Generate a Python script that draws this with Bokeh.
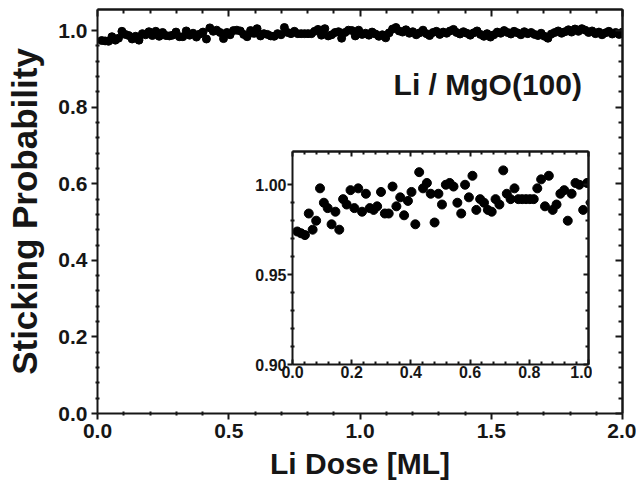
from bokeh.plotting import figure
from bokeh.models import (Range1d, FixedTicker, PrintfTickFormatter,
                          LinearAxis, Label, ColumnDataSource)
from bokeh.embed import file_html
from bokeh.resources import INLINE

# Li dose [ML]
dose = [
    0.016, 0.029, 0.042, 0.055, 0.068, 0.080, 0.093, 0.106, 0.119, 0.132,
    0.145, 0.158, 0.171, 0.183, 0.196, 0.209, 0.222, 0.235, 0.248, 0.261,
    0.274, 0.286, 0.299, 0.312, 0.325, 0.338, 0.351, 0.364, 0.377, 0.390,
    0.402, 0.415, 0.428, 0.441, 0.454, 0.467, 0.480, 0.493, 0.505, 0.518,
    0.531, 0.544, 0.557, 0.570, 0.583, 0.596, 0.608, 0.621, 0.634, 0.647,
    0.660, 0.673, 0.686, 0.699, 0.712, 0.724, 0.737, 0.750, 0.763, 0.776,
    0.789, 0.802, 0.815, 0.827, 0.840, 0.853, 0.866, 0.879, 0.892, 0.905,
    0.918, 0.930, 0.943, 0.956, 0.969, 0.982, 0.995, 1.008, 1.021, 1.034,
    1.046, 1.059, 1.072, 1.085, 1.098, 1.111, 1.124, 1.137, 1.149, 1.162,
    1.175, 1.188, 1.201, 1.214, 1.227, 1.240, 1.253, 1.265, 1.278, 1.291,
    1.304, 1.317, 1.330, 1.343, 1.356, 1.368, 1.381, 1.394, 1.407, 1.420,
    1.433, 1.446, 1.459, 1.472, 1.484, 1.497, 1.510, 1.523, 1.536, 1.549,
    1.562, 1.575, 1.587, 1.600, 1.613, 1.626, 1.639, 1.652, 1.665, 1.678,
    1.690, 1.703, 1.716, 1.729, 1.742, 1.755, 1.768, 1.781, 1.794, 1.806,
    1.819, 1.832, 1.845, 1.858, 1.871, 1.884, 1.897, 1.910, 1.922, 1.935,
    1.948, 1.961, 1.974, 1.987, 2.000,
]

# Sticking probability
stick = [
    0.974, 0.973, 0.972, 0.984, 0.975, 0.980, 0.998, 0.990, 0.987, 0.978,
    0.985, 0.975, 0.992, 0.989, 0.997, 0.987, 0.998, 0.985, 0.995, 0.987,
    0.986, 0.988, 0.996, 0.984, 0.984, 0.999, 0.988, 0.993, 0.983, 0.991,
    0.996, 0.978, 1.007, 0.998, 1.001, 0.995, 0.979, 0.995, 0.989, 1.000,
    1.001, 0.999, 0.990, 0.984, 1.000, 0.993, 1.005, 0.986, 0.992, 0.990,
    0.986, 0.985, 0.992, 0.989, 1.008, 0.995, 0.992, 0.998, 0.992, 0.992,
    0.992, 0.992, 0.992, 0.998, 1.003, 0.988, 1.005, 0.986, 0.989, 0.995,
    0.997, 0.980, 0.995, 1.001, 1.000, 0.986, 1.001, 0.990, 0.993, 0.988,
    0.996, 0.991, 0.985, 0.989, 0.981, 0.994, 1.004, 1.008, 0.999, 0.996,
    1.002, 0.993, 0.997, 0.989, 0.994, 1.001, 0.992, 0.987, 0.995, 0.998,
    0.990, 0.996, 0.993, 0.999, 1.003, 0.995, 0.991, 0.997, 0.993, 0.988,
    0.994, 0.999, 0.990, 0.985, 0.992, 0.983, 0.989, 0.996, 0.993, 1.000,
    0.995, 0.991, 0.998, 0.994, 0.989, 0.997, 0.992, 0.995, 0.990, 0.987,
    0.993, 0.985, 0.980, 0.991, 0.995, 0.999, 0.993, 0.997, 1.002, 0.996,
    1.004, 0.998, 1.005, 1.001, 0.995, 0.999, 0.992, 0.996, 0.989, 0.994,
    0.998, 0.991, 0.995, 0.990, 0.996,
]

main_x_ticks = [0.0, 0.5, 1.0, 1.5, 2.0]
main_y_ticks = [0.0, 0.2, 0.4, 0.6, 0.8, 1.0]
inset_x_ticks = [0.0, 0.2, 0.4, 0.6, 0.8, 1.0]
inset_y_ticks = [0.90, 0.95, 1.00]

FONT = "Liberation Sans"
INK = "#161616"

n = min(len(dose), len(stick))
src = ColumnDataSource(dict(x=dose[:n], y=stick[:n]))
inset_n = sum(1 for d in dose[:n] if d <= 1.02)
src_inset = ColumnDataSource(dict(x=dose[:inset_n], y=stick[:inset_n]))


def minor_positions(majors, parts):
    out = []
    for a, b in zip(majors[:-1], majors[1:]):
        step = (b - a) / parts
        out += [a + k * step for k in range(1, parts)]
    return out


def base_style(ax):
    ax.axis_line_width = 2
    ax.axis_line_color = INK
    ax.major_tick_line_width = 2
    ax.minor_tick_line_width = 2
    ax.major_tick_line_color = INK
    ax.minor_tick_line_color = INK
    ax.major_label_text_font = FONT
    ax.major_label_text_font_style = "bold"
    ax.major_label_text_color = INK
    ax.axis_label_text_font = FONT
    ax.axis_label_text_font_style = "bold"
    ax.axis_label_text_color = INK


def labelled_axis(ticks, parts, fmt, size, maj_in, maj_out, min_in, min_out, standoff):
    ax = LinearAxis(ticker=FixedTicker(ticks=ticks, minor_ticks=minor_positions(ticks, parts)),
                    formatter=PrintfTickFormatter(format=fmt))
    base_style(ax)
    ax.major_tick_in, ax.major_tick_out = maj_in, maj_out
    ax.minor_tick_in, ax.minor_tick_out = min_in, min_out
    ax.major_label_text_font_size = f"{size}px"
    ax.major_label_standoff = standoff
    return ax


def mirror_axes(fig, side, ticks, parts, maj_len, min_len):
    # two label-free axes that only carry inward ticks (long at majors, short at minors)
    a1 = LinearAxis(ticker=FixedTicker(ticks=[], minor_ticks=minor_positions(ticks, parts)))
    a2 = LinearAxis(ticker=FixedTicker(ticks=[], minor_ticks=list(ticks)))
    for a, ln in ((a1, min_len), (a2, maj_len)):
        base_style(a)
        a.major_tick_in = a.major_tick_out = 0
        a.minor_tick_in, a.minor_tick_out = ln, 0
        a.major_label_standoff = 0
        fig.add_layout(a, side)


# ---------------- main plot (frame at page x 97..622, y 9..413) ----------------
ML, MR, MT, MB = 97, 14, 9, 73
p = figure(width=ML + 525 + MR, height=MT + 404 + MB, output_backend="svg", toolbar_location=None,
           x_range=Range1d(0.0, 2.0), y_range=Range1d(0.0, 1.055),
           min_border_left=ML, min_border_right=MR, min_border_top=MT, min_border_bottom=MB,
           x_axis_location=None, y_axis_location=None)
p.grid.visible = False
p.outline_line_color = None
p.background_fill_color = "white"

xb = labelled_axis(main_x_ticks, 5, "%.1f", 21, 0, 6, 2, 2, 4)
xb.axis_label = "Li Dose [ML]"
xb.axis_label_text_font_size = "30px"
xb.axis_label_standoff = 6
p.add_layout(xb, "below")

yl = labelled_axis(main_y_ticks, 5, "%.1f", 21, 0, 6, 2, 2, 4)
yl.axis_label = "Sticking Probability"
yl.axis_label_text_font_size = "35px"
yl.axis_label_standoff = 11
p.add_layout(yl, "left")

mirror_axes(p, "above", main_x_ticks, 5, 7, 4)
mirror_axes(p, "right", main_y_ticks, 5, 7, 4)

p.scatter("x", "y", source=src, size=8, fill_color="black", line_color="black")

p.add_layout(Label(x=1.128, y=0.858, text="Li / MgO(100)", text_font=FONT,
                   text_font_style="bold", text_font_size="30px", text_color=INK,
                   text_align="left", text_baseline="alphabetic"))

p.styles = {"position": "absolute", "left": "0px", "top": "0px"}

# ---------------- inset (frame at page x 292..588, y 151..364) ----------------
BL, BR, BT, BB = 44, 4, 4, 28
FW, FH = 296, 213
q = figure(width=BL + FW + BR, height=BT + FH + BB, output_backend="svg", toolbar_location=None,
           x_range=Range1d(0.0, 1.0), y_range=Range1d(0.90, 1.0185),
           min_border_left=BL, min_border_right=BR, min_border_top=BT, min_border_bottom=BB,
           x_axis_location=None, y_axis_location=None)
q.grid.visible = False
q.outline_line_color = None
q.background_fill_color = "white"
q.border_fill_alpha = 0

qb = labelled_axis(inset_x_ticks, 5, "%.1f", 16, 5, 0, 3, 0, 1)
q.add_layout(qb, "below")
ql = labelled_axis(inset_y_ticks, 5, "%.2f", 16, 0, 5, 2, 2, 1)
q.add_layout(ql, "left")
mirror_axes(q, "above", inset_x_ticks, 5, 5, 3)
mirror_axes(q, "right", inset_y_ticks, 5, 5, 3)

q.scatter("x", "y", source=src_inset, size=9, fill_color="black", line_color="black")

q.styles = {"position": "absolute", "left": f"{292 - BL}px", "top": f"{151 - BT}px"}

open("out.html", "w").write(file_html([p, q], INLINE))
